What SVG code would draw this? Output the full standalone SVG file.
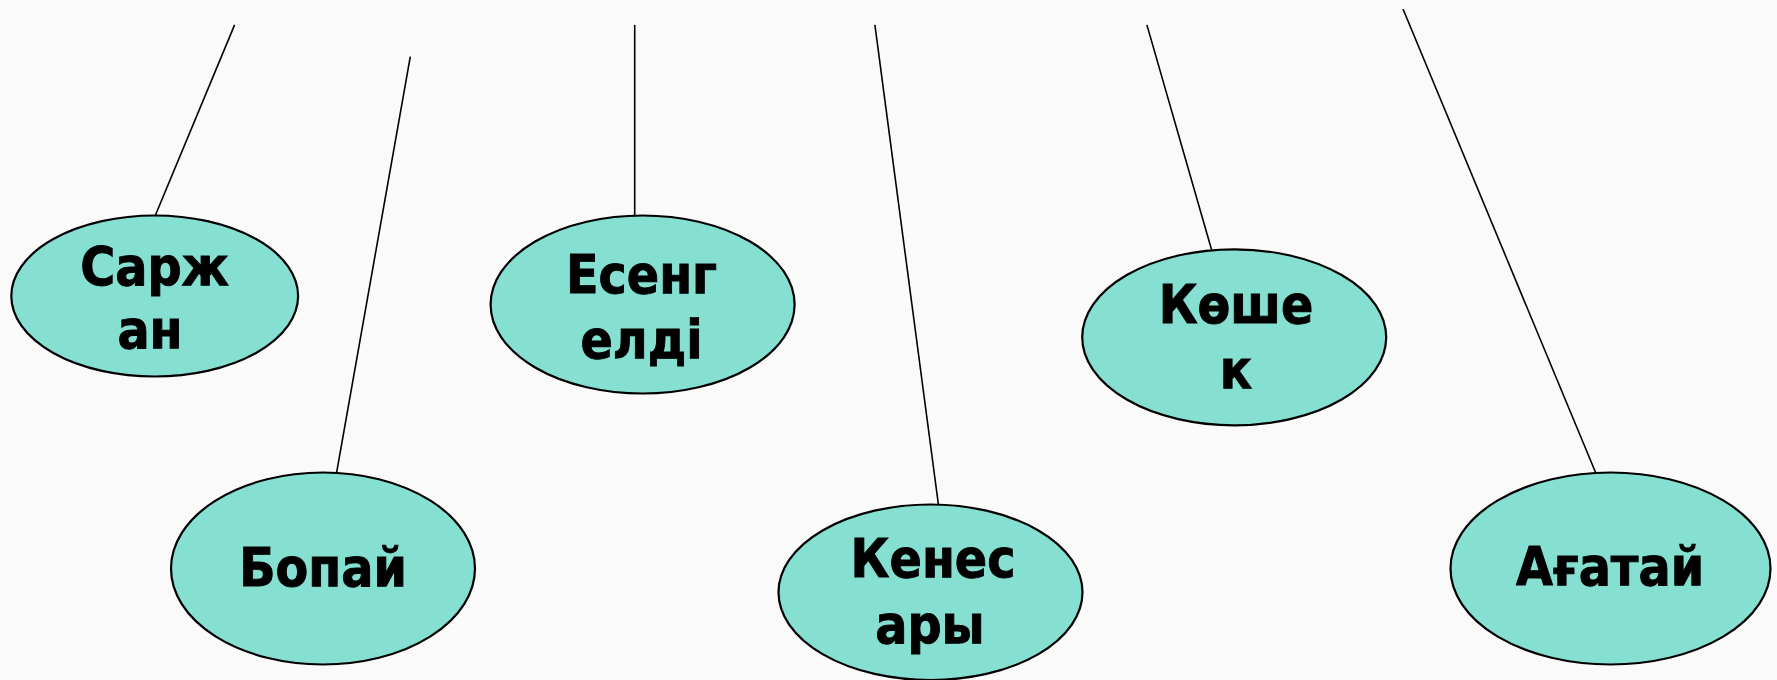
<svg xmlns="http://www.w3.org/2000/svg" width="1777" height="680" viewBox="0 0 1777 680">
<style>
.bg{fill:#fafafa}
.node ellipse{fill:#86e0d2;stroke:#000;stroke-width:2.2}
.node text{font-family:"DejaVu Sans Condensed","DejaVu Sans",Verdana,sans-serif;font-stretch:condensed;font-weight:bold;font-size:53px;fill:#000;stroke:#000;stroke-width:0.9;text-anchor:middle}
#connectors line{stroke:#000;stroke-width:1.6}
</style>
<rect class="bg" x="0" y="0" width="1777" height="680"/>
<g id="connectors">
<line x1="234.6" y1="24.9" x2="155.3" y2="215.5"/>
<line x1="410.3" y1="56.7" x2="336.6" y2="472.6"/>
<line x1="634.7" y1="24.9" x2="634.7" y2="215.5"/>
<line x1="874.9" y1="24.9" x2="938.4" y2="504.5"/>
<line x1="1146.9" y1="24.9" x2="1211.5" y2="249.5"/>
<line x1="1403" y1="9" x2="1595.7" y2="472.8"/>
</g>
<g id="n-sarzhan" class="node">
<ellipse cx="154.7" cy="296" rx="143.4" ry="80.5"/>
<text x="154.7" y="285">Сарж</text>
<text x="150" y="348">ан</text>
</g>
<g id="n-bopai" class="node">
<ellipse cx="323" cy="568.5" rx="152" ry="96"/>
<text x="323" y="586">Бопай</text>
</g>
<g id="n-esengeldi" class="node">
<ellipse cx="642.6" cy="304.5" rx="152" ry="89"/>
<text x="641.5" y="293">Есенг</text>
<text x="641.5" y="358">елді</text>
</g>
<g id="n-kenesary" class="node">
<ellipse cx="930.5" cy="592.3" rx="152" ry="87.8"/>
<text x="933" y="577">Кенес</text>
<text x="930" y="643">ары</text>
</g>
<g id="n-koshek" class="node">
<ellipse cx="1234.2" cy="337.3" rx="152" ry="88"/>
<text x="1236" y="323">Көше</text>
<text x="1236" y="388">к</text>
</g>
<g id="n-agatai" class="node">
<ellipse cx="1610.5" cy="568.5" rx="160" ry="96"/>
<text x="1610" y="585">Ағатай</text>
</g>
</svg>
